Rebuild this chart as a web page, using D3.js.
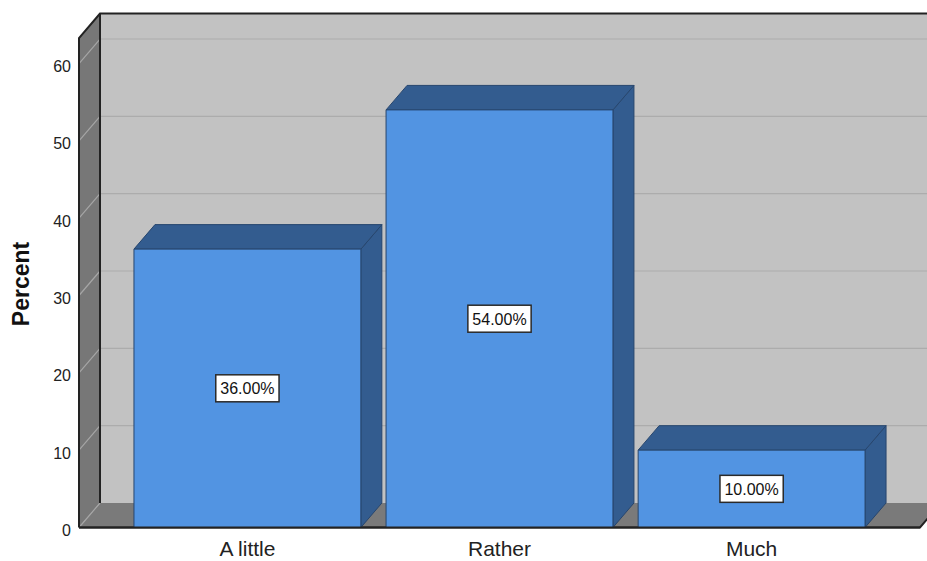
<!DOCTYPE html>
<html>
<head>
<meta charset="utf-8">
<script src="https://cdn.jsdelivr.net/npm/d3@7/dist/d3.min.js"></script>
<style>
  html, body { margin: 0; padding: 0; background: #ffffff; }
  svg { display: block; font-family: "Liberation Sans", Arial, sans-serif; }
</style>
</head>
<body>
<svg id="chart" width="927" height="561"></svg>
<script>
// Response categories and their percentages
const categories = ["A little", "Rather", "Much"];
const percents = [36, 54, 10];
const valueLabels = ["36.00%", "54.00%", "10.00%"];
const yTicks = [0, 10, 20, 30, 40, 50, 60];
const yTitle = "Percent";

const svg = d3.select("#chart");

// Front plane of the 3D box, and the depth offset toward the back wall
const frontLeft = 79, frontRight = 920;
const depthX = 21, depthY = -24.5;

const x = d3.scaleBand()
  .domain(categories)
  .range([frontLeft, frontRight])
  .paddingInner(0.1)
  .paddingOuter(0.218);

const y = d3.scaleLinear()
  .domain([0, 63.3])
  .range([527.5, 38]);

const y0 = y(0), yTop = y.range()[1];
const pts = a => "M" + a.map(p => p.join(",")).join("L") + "Z";

// Back wall
svg.append("path")
  .attr("d", pts([[frontLeft + depthX, yTop + depthY], [frontRight + depthX + 40, yTop + depthY],
                  [frontRight + depthX + 40, y0 + depthY], [frontLeft + depthX, y0 + depthY]]))
  .attr("fill", "#c2c2c2");

// Left side wall
svg.append("path")
  .attr("d", pts([[frontLeft, y0], [frontLeft, yTop], [frontLeft + depthX, yTop + depthY], [frontLeft + depthX, y0 + depthY]]))
  .attr("fill", "#777777");

// Floor
svg.append("path")
  .attr("d", pts([[frontLeft, y0], [frontRight, y0], [frontRight + depthX, y0 + depthY], [frontLeft + depthX, y0 + depthY]]))
  .attr("fill", "#7a7a7a");

// Grid lines: across the back wall and slanted over the side wall
const grid = svg.append("g");
yTicks.filter(v => v > 0).forEach(v => {
  grid.append("line")
    .attr("x1", frontLeft + depthX).attr("x2", 927)
    .attr("y1", y(v) + depthY).attr("y2", y(v) + depthY)
    .attr("stroke", "#acacac").attr("stroke-width", 1.2);
});
yTicks.forEach(v => {
  grid.append("line")
    .attr("x1", frontLeft).attr("y1", y(v))
    .attr("x2", frontLeft + depthX).attr("y2", y(v) + depthY)
    .attr("stroke", "#a6a6a6").attr("stroke-width", 1.2);
});

// Box outlines
const frame = svg.append("g").attr("fill", "none").attr("stroke", "#222222").attr("stroke-width", 2);
frame.append("path")
  .attr("d", `M${frontLeft},${y0}L${frontLeft},${yTop}L${frontLeft + depthX},${yTop + depthY}L927,${yTop + depthY}`);
frame.append("path")
  .attr("d", `M${frontLeft + depthX},${yTop + depthY}L${frontLeft + depthX},${y0 + depthY}`);
frame.append("path")
  .attr("d", `M${frontLeft},${y0}L${frontRight},${y0}L${frontRight + depthX},${y0 + depthY}`);

// Bars as 3D blocks: side, top and front faces
const bars = svg.append("g");
categories.forEach((c, i) => {
  const x0 = x(c), x1 = x(c) + x.bandwidth(), yt = y(percents[i]);
  const g = bars.append("g").attr("stroke", "#27466e").attr("stroke-width", 1).attr("stroke-linejoin", "round");
  g.append("path")
    .attr("d", pts([[x1, y0], [x1, yt], [x1 + depthX, yt + depthY], [x1 + depthX, y0 + depthY]]))
    .attr("fill", "#335c8f");
  g.append("path")
    .attr("d", pts([[x0, yt], [x1, yt], [x1 + depthX, yt + depthY], [x0 + depthX, yt + depthY]]))
    .attr("fill", "#335c8f");
  g.append("rect")
    .attr("x", x0).attr("y", yt)
    .attr("width", x.bandwidth()).attr("height", y0 - yt)
    .attr("fill", "#5294e2");
});

// Redraw the front floor edge over the bar bottoms
svg.append("line")
  .attr("x1", frontLeft).attr("x2", frontRight)
  .attr("y1", y0).attr("y2", y0)
  .attr("stroke", "#222222").attr("stroke-width", 2);

// Value labels in boxes centred on each front face
const labels = svg.append("g");
categories.forEach((c, i) => {
  const cx = x(c) + x.bandwidth() / 2;
  const cy = (y(percents[i]) + y0) / 2;
  const g = labels.append("g");
  const box = g.append("rect");
  const t = g.append("text")
    .attr("x", cx).attr("y", cy + 6)
    .attr("text-anchor", "middle")
    .attr("font-size", 16)
    .attr("fill", "#111111")
    .text(valueLabels[i]);
  const w = t.node().getComputedTextLength() + 9;
  box.attr("x", cx - w / 2).attr("y", cy - 13.5)
    .attr("width", w).attr("height", 27)
    .attr("fill", "#ffffff").attr("stroke", "#2a2a2a").attr("stroke-width", 1.5);
});

// Y tick labels
svg.append("g").selectAll("text")
  .data(yTicks)
  .join("text")
  .attr("x", 71)
  .attr("y", d => y(d) + 8.5)
  .attr("text-anchor", "end")
  .attr("font-size", 16)
  .attr("fill", "#222222")
  .text(d => d);

// Category labels
svg.append("g").selectAll("text")
  .data(categories)
  .join("text")
  .attr("x", d => x(d) + x.bandwidth() / 2)
  .attr("y", 556)
  .attr("text-anchor", "middle")
  .attr("font-size", 21)
  .attr("fill", "#222222")
  .text(d => d);

// Y axis title
svg.append("text")
  .attr("transform", "translate(29,284) rotate(-90)")
  .attr("text-anchor", "middle")
  .attr("font-size", 23)
  .attr("font-weight", "bold")
  .attr("fill", "#111111")
  .text(yTitle);
</script>
</body>
</html>
